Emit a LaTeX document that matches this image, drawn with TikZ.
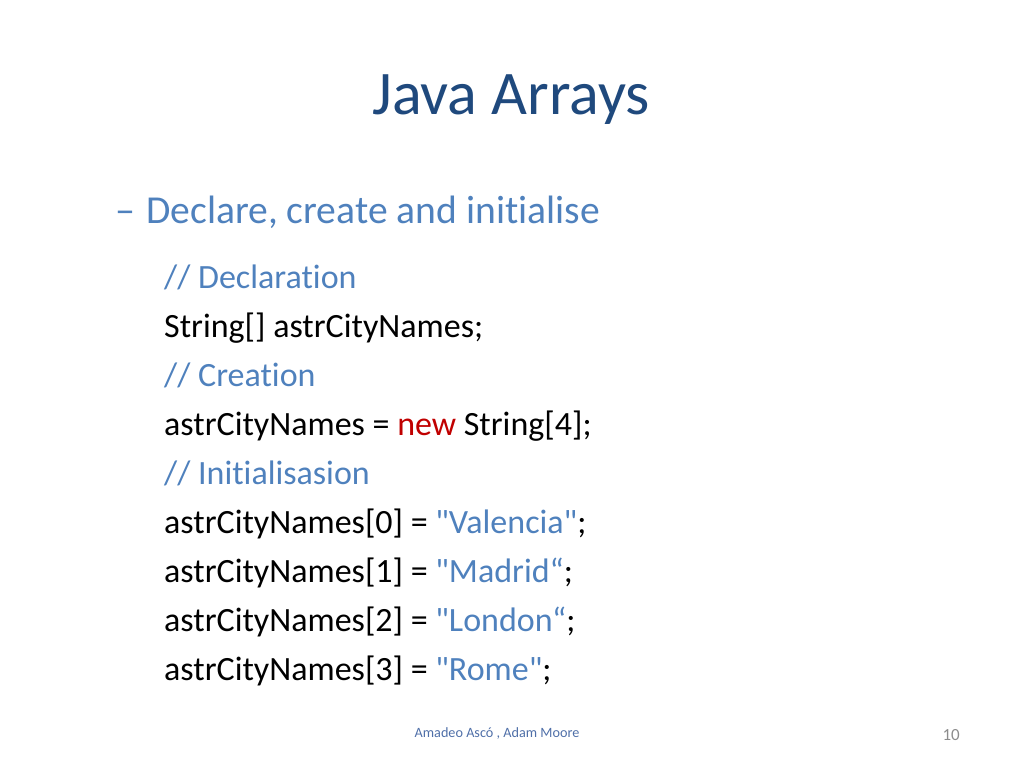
\documentclass[tikz,border=0pt]{standalone}
\usepackage{fontspec}
\setmainfont{Carlito}[Ligatures={TeXOff,CommonOff}]
\definecolor{titleblue}{HTML}{1F497D}
\definecolor{textblue}{HTML}{4F81BD}
\definecolor{keyred}{HTML}{C00000}
\definecolor{footblue}{HTML}{4F6FA8}
\definecolor{footgrey}{HTML}{8C8C8C}
\tikzset{
  codeline/.style={anchor=base west, inner sep=0pt, font=\fontsize{34}{34}\selectfont},
  comment/.style={codeline, text=textblue},
}
\newcommand{\str}[1]{\textcolor{textblue}{#1}}
\begin{document}
\begin{tikzpicture}[x=1pt, y=-1pt]
    \useasboundingbox (0,0) rectangle (1024,768);
    \node (title) [anchor=base, inner sep=0pt, text=titleblue, font=\fontsize{62}{62}\selectfont] at (511,114) {Java Arrays};

    \node (dash) [anchor=base west, inner sep=0pt, text=textblue, font=\fontsize{40}{40}\selectfont] at (115,223) {–};
    \node (bullet) [anchor=base west, inner sep=0pt, text=textblue, font=\fontsize{39.6}{40}\selectfont] at (146,223) {Declare, create and initialise};

    \node (decl) [comment] at (164,288) {// Declaration};
    \node (declcode) [codeline] at (164,337) {String[] astrCityNames;};
    \node (creat) [comment] at (164,386) {// Creation};
    \node (creatcode) [codeline] at (164,435) {astrCityNames = \textcolor{keyred}{new} String[4];};
    \node (init) [comment] at (164,484) {// Initialisasion};
    \node (init0) [codeline] at (164,533) {astrCityNames[0] = \str{"Valencia"};};
    \node (init1) [codeline] at (164,582) {astrCityNames[1] = \str{"Madrid“};};
    \node (init2) [codeline] at (164,631) {astrCityNames[2] = \str{"London“};};
    \node (init3) [codeline] at (164,680) {astrCityNames[3] = \str{"Rome"};};

    \node (author) [anchor=base, inner sep=0pt, text=footblue, font=\fontsize{14.2}{14}\selectfont] at (497,737) {Amadeo Ascó , Adam Moore};
    \node (page) [anchor=base east, inner sep=0pt, text=footgrey, font=\fontsize{17}{17}\selectfont] at (960,740) {10};
\end{tikzpicture}
\end{document}
